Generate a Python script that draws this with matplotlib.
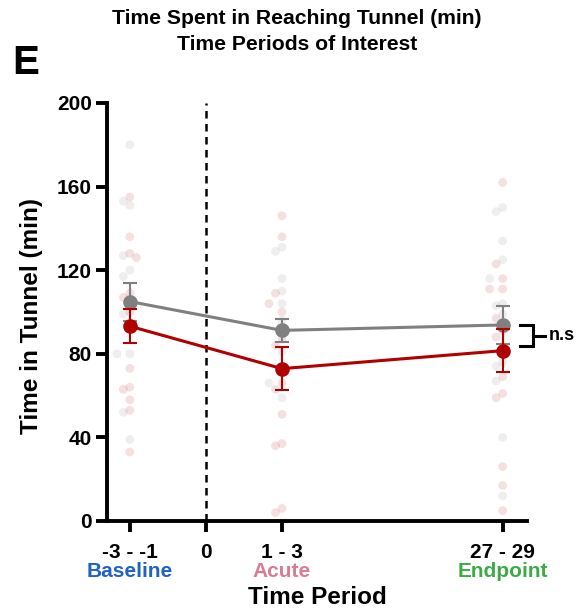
#!/usr/bin/env python3

import matplotlib
matplotlib.use("Agg")
import matplotlib.pyplot as plt
import numpy as np


# time periods on the x axis
period_pos    = [0, 2, 4.9]
tick_pos      = [0, 1, 2, 4.9]
tick_labels   = ['-3 - -1', '0', '1 - 3', '27 - 29']
period_names  = ['Baseline', 'Acute', 'Endpoint']
period_colors = ['#1f63c6', '#d97b93', '#3cab45']

# group means and SEM (min)
gray_mean = [105.0, 91.2, 93.8]
gray_sem  = [9.1, 5.6, 9.0]
red_mean  = [93.2, 72.9, 81.5]
red_sem   = [8.2, 10.4, 10.4]

# individual animals, per period
gray_pts = [
  [180, 153, 151, 127, 120, 117, 99, 80, 80, 52, 39],
  [131, 129, 116, 110, 104, 96, 81, 66, 59],
  [150, 148, 134, 125, 116, 104, 103, 99, 76, 74, 67, 40, 12],
]
red_pts = [
  [155, 136, 128, 126, 109, 107, 100, 92, 73, 64, 63, 58, 53, 33],
  [146, 136, 109, 104, 100, 87, 84, 66, 63, 51, 37, 36, 6, 4],
  [162, 123, 116, 111, 111, 97, 91, 88, 69, 61, 59, 26, 17, 5],
]

c_gray = '#808080'
c_red  = '#b00000'

plt.rcParams['font.family'] = ['Liberation Sans', 'DejaVu Sans']
plt.rcParams['font.weight'] = 'bold'


def swarm(vals, px_x, px_y, dmin=6.8):
  """ Simple beeswarm offsets (data units) for one column of points. """
  order = np.argsort(vals)[::-1]
  placed = []
  offs = np.zeros(len(vals))
  for i in order:
    y = vals[i] * px_y
    for k in [0, -1, 1, -2, 2, -3, 3]:
      x = k * 6.5
      if all(np.hypot(x - px, y - py) >= dmin for px, py in placed):
        break
    placed.append((x, y))
    offs[i] = x / px_x
  return offs


fig = plt.figure(figsize=(5.86, 6.13), dpi=100)
ax = fig.add_axes([107/586, 1 - 521/613, 420/586, 418/613])

xlim = (-0.30, 5.22)
ylim = (0, 200)
px_x = 420 / (xlim[1] - xlim[0])
px_y = 418 / (ylim[1] - ylim[0])

# individual points, both groups swarmed together per period
for p, xp in enumerate(period_pos):
  vals = np.array(gray_pts[p] + red_pts[p], dtype=float)
  offs = swarm(vals, px_x, px_y)
  ng = len(gray_pts[p])
  ax.scatter(xp + offs[:ng], vals[:ng], s=40, color=c_gray, alpha=0.13,
             edgecolors='none', zorder=1, clip_on=False)
  ax.scatter(xp + offs[ng:], vals[ng:], s=40, color=c_red, alpha=0.12,
             edgecolors='none', zorder=1, clip_on=False)

# injury time
ax.axvline(1, color='black', lw=1.8, ls=(0, (3, 2.2)), zorder=2)

# group means +/- SEM
ax.errorbar(period_pos, gray_mean, yerr=gray_sem, color=c_gray, lw=2.2,
            marker='o', ms=9.5, capsize=5, capthick=1.5, elinewidth=1.5, zorder=4)
ax.errorbar(period_pos, red_mean, yerr=red_sem, color=c_red, lw=2.2,
            marker='o', ms=9.5, capsize=5, capthick=1.5, elinewidth=1.5, zorder=5)

# significance bracket at endpoint
b_top = gray_mean[-1]
b_bot = red_mean[-1] + 2
bx0, bx1, bx2 = 5.13, 5.30, 5.45
ax.plot([bx0, bx1, bx1, bx0], [b_top, b_top, b_bot, b_bot], color='black',
        lw=2.2, clip_on=False, solid_joinstyle='miter')
ax.plot([bx1, bx2], [(b_top + b_bot) / 2] * 2, color='black', lw=2.2, clip_on=False)
ax.text(bx2 + 0.05, (b_top + b_bot) / 2, 'n.s', fontsize=13, fontweight='bold',
        va='center', ha='left')

ax.set_xlim(xlim)
ax.set_ylim(ylim)
ax.set_yticks(np.arange(0, 201, 40))
ax.set_xticks(tick_pos)
ax.set_xticklabels(tick_labels)

for s in ['top', 'right']:
  ax.spines[s].set_visible(False)
for s in ['left', 'bottom']:
  ax.spines[s].set_linewidth(2.8)
ax.tick_params(axis='both', width=2.8, length=8, labelsize=15)
ax.tick_params(axis='y', pad=3)
ax.tick_params(axis='x', pad=8)
for lab in ax.get_xticklabels() + ax.get_yticklabels():
  lab.set_fontweight('bold')

# colored period names below the tick labels
for xp, nm, col in zip(period_pos, period_names, period_colors):
  ax.text(xp, (521 - 571.5) / 418, nm, color=col, fontsize=15, fontweight='bold',
          ha='center', va='center', transform=ax.get_xaxis_transform())

ax.set_xlabel('Time Period', fontsize=17.5, fontweight='bold')
ax.xaxis.set_label_coords(0.5, (521 - 598) / 418)
ax.xaxis.label.set_va('center')
ax.set_ylabel('Time in Tunnel (min)', fontsize=17.5, fontweight='bold')
ax.yaxis.set_label_coords((32 - 107) / 420, 0.49)
ax.yaxis.label.set_va('center')

fig.text(297/586, 1 - 19/613, 'Time Spent in Reaching Tunnel (min)',
         fontsize=15.2, fontweight='bold', ha='center', va='center')
fig.text(297/586, 1 - 45/613, 'Time Periods of Interest',
         fontsize=15.2, fontweight='bold', ha='center', va='center')
fig.text(12/586, 1 - 63/613, 'E', fontsize=29, fontweight='bold',
         ha='left', va='center')

fig.savefig('out.png', dpi=100)
